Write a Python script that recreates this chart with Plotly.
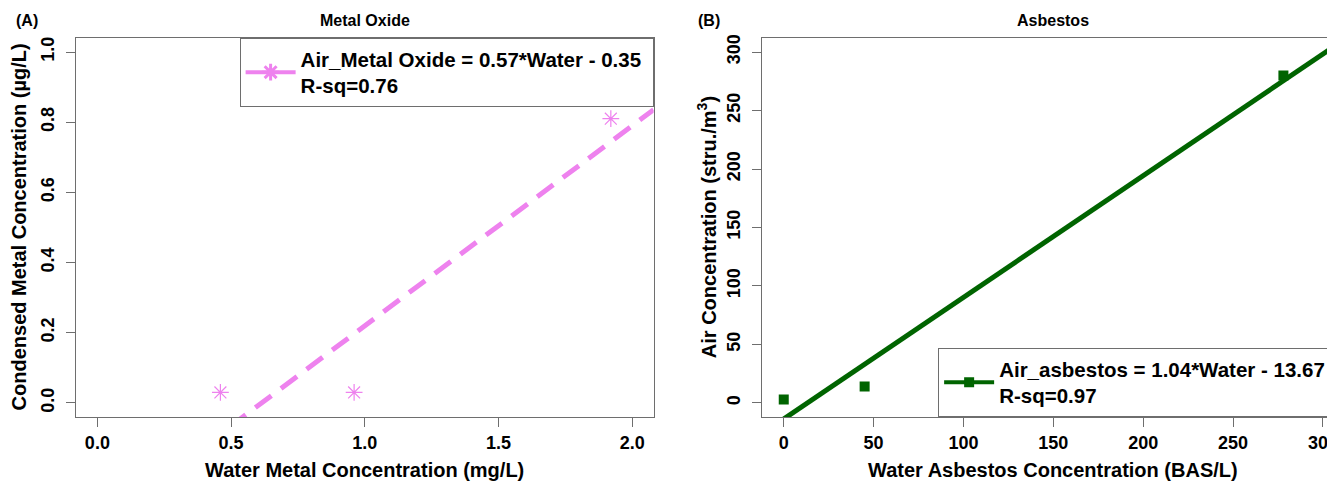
import plotly.graph_objects as go

# ---------------- data ----------------
# Panel A: Metal Oxide
metal_water = [0.46, 0.96, 1.92]
metal_air = [0.03, 0.03, 0.81]
metal_slope = 0.57
metal_intercept = -0.35
metal_legend = ["Air_Metal Oxide = 0.57*Water - 0.35", "R-sq=0.76"]
metal_xticks = [0.0, 0.5, 1.0, 1.5, 2.0]
metal_xticklabels = ["0.0", "0.5", "1.0", "1.5", "2.0"]
metal_yticks = [0.0, 0.2, 0.4, 0.6, 0.8, 1.0]
metal_yticklabels = ["0.0", "0.2", "0.4", "0.6", "0.8", "1.0"]

# Panel B: Asbestos
asb_water = [0, 45, 278]
asb_air = [3, 14, 280]
asb_slope = 1.04
asb_intercept = -13.67
asb_legend = ["Air_asbestos = 1.04*Water - 13.67", "R-sq=0.97"]
asb_xticks = [0, 50, 100, 150, 200, 250, 300]
asb_yticks = [0, 50, 100, 150, 200, 250, 300]

# ---------------- geometry (page pixels; body has an 8px margin) ----------------
OFF = 8
W, H = 1335 - OFF, 485 - OFF
ML, MR, MT, MB = 75.6 - OFF, 0, 38 - OFF, 485 - 417
PW = W - ML - MR
PH = H - MT - MB


def px_x(p):
    return (p - OFF - ML) / PW


def px_y(p):
    return (H - MB - (p - OFF)) / PH


FONT = "Liberation Sans, Arial, sans-serif"
AXC = "#6e6e6e"
VIOLET = "#EE82EE"
GREEN = "#006400"
NB = "\u00a0"

xa_range = [-0.08, 2.08]
ya_range = [-0.04, 1.04]
xb_range = [-12, 306.7]
yb_range = [-12, 312]

fig = go.Figure()

# Panel A
fig.add_trace(go.Scatter(
    x=metal_water, y=metal_air, mode="markers",
    marker=dict(symbol="asterisk-open", size=14, color=VIOLET, line=dict(width=1.2, color=VIOLET)),
    xaxis="x", yaxis="y", showlegend=False))
fig.add_trace(go.Scatter(
    x=xa_range, y=[metal_slope * v + metal_intercept for v in xa_range], mode="lines",
    line=dict(color=VIOLET, width=5, dash="20px,12px"),
    xaxis="x", yaxis="y", showlegend=False))
fig.add_trace(go.Scatter(
    x=[None], y=[None], mode="lines+markers",
    name=metal_legend[0] + NB + "<br>" + metal_legend[1],
    line=dict(color=VIOLET, width=4),
    marker=dict(symbol="asterisk-open", size=14, color=VIOLET, line=dict(width=3, color=VIOLET)),
    xaxis="x", yaxis="y", showlegend=True, legend="legend"))

# Panel B
fig.add_trace(go.Scatter(
    x=asb_water, y=asb_air, mode="markers",
    marker=dict(symbol="square", size=10, color=GREEN),
    xaxis="x2", yaxis="y2", showlegend=False))
fig.add_trace(go.Scatter(
    x=xb_range, y=[asb_slope * v + asb_intercept for v in xb_range], mode="lines",
    line=dict(color=GREEN, width=5),
    xaxis="x2", yaxis="y2", showlegend=False))
fig.add_trace(go.Scatter(
    x=[None], y=[None], mode="lines+markers",
    name=asb_legend[0] + "<br>" + asb_legend[1],
    line=dict(color=GREEN, width=4),
    marker=dict(symbol="square", size=10, color=GREEN),
    xaxis="x2", yaxis="y2", showlegend=True, legend="legend2"))

tickfont = dict(family=FONT, size=18, color="black", weight="bold")
common = dict(showline=True, linecolor=AXC, linewidth=1, ticks="outside", ticklen=9,
              tickcolor=AXC, tickwidth=1, showgrid=False, zeroline=False, tickfont=tickfont)

dom_a = [0, px_x(653.4)]
dom_b = [px_x(762), 1]

legfont = dict(family=FONT, size=20.5, color="black", weight="bold")

fig.update_layout(
    width=W, height=H,
    margin=dict(l=ML, r=MR, t=MT, b=MB, autoexpand=False),
    paper_bgcolor="white", plot_bgcolor="white",
    xaxis=dict(domain=dom_a, range=xa_range, tickvals=metal_xticks, ticktext=metal_xticklabels,
               mirror=True, anchor="y", **common),
    yaxis=dict(domain=[0, 1], range=ya_range, tickvals=metal_yticks, ticktext=metal_yticklabels,
               tickangle=-90, mirror=True, anchor="x", ticklabelstandoff=5, **common),
    xaxis2=dict(domain=dom_b, range=xb_range, tickvals=asb_xticks, ticklabeloverflow="allow",
                mirror=True, anchor="y2", **common),
    yaxis2=dict(domain=[0, 1], range=yb_range, tickvals=asb_yticks,
                tickangle=-90, mirror=False, anchor="x2", ticklabelstandoff=5, **common),
    legend=dict(x=dom_a[1], xanchor="right", y=1, yanchor="top", bgcolor="white",
                bordercolor=AXC, borderwidth=1, font=legfont, itemwidth=50, valign="middle"),
    legend2=dict(x=px_x(938), xanchor="left", y=0, yanchor="bottom", bgcolor="white",
                 bordercolor=AXC, borderwidth=1, font=legfont, itemwidth=50, valign="middle",
                 entrywidth=410, entrywidthmode="pixels"),
    showlegend=True,
)

titlefont = dict(family=FONT, size=16, color="black", weight="bold")
labfont = dict(family=FONT, size=20, color="black", weight="bold")

annots = [
    dict(text="Metal Oxide", x=(dom_a[0] + dom_a[1]) / 2, y=px_y(20), font=titlefont),
    dict(text="Asbestos", x=(dom_b[0] + px_x(1344.6)) / 2, y=px_y(20), font=titlefont),
    dict(text="(A)", x=px_x(14), y=px_y(20), xanchor="left", font=titlefont),
    dict(text="(B)", x=px_x(696), y=px_y(20), xanchor="left", font=titlefont),
    dict(text="Water Metal Concentration (mg/L)", x=(dom_a[0] + dom_a[1]) / 2, y=px_y(470), font=labfont),
    dict(text="Water Asbestos Concentration (BAS/L)", x=(dom_b[0] + px_x(1344.6)) / 2, y=px_y(470), font=labfont),
    dict(text="Condensed Metal Concentration (\u00b5g/L)", x=px_x(19), y=px_y(227), textangle=-90, font=labfont),
    dict(text="Air Concentration (stru./m<sup>3</sup>)", x=px_x(706), y=px_y(227), textangle=-90, font=labfont),
]
for a in annots:
    a.update(xref="paper", yref="paper", showarrow=False)
    a.setdefault("xanchor", "center")
    a.setdefault("yanchor", "middle")
    fig.add_annotation(**a)

fig.write_html("out.html")
